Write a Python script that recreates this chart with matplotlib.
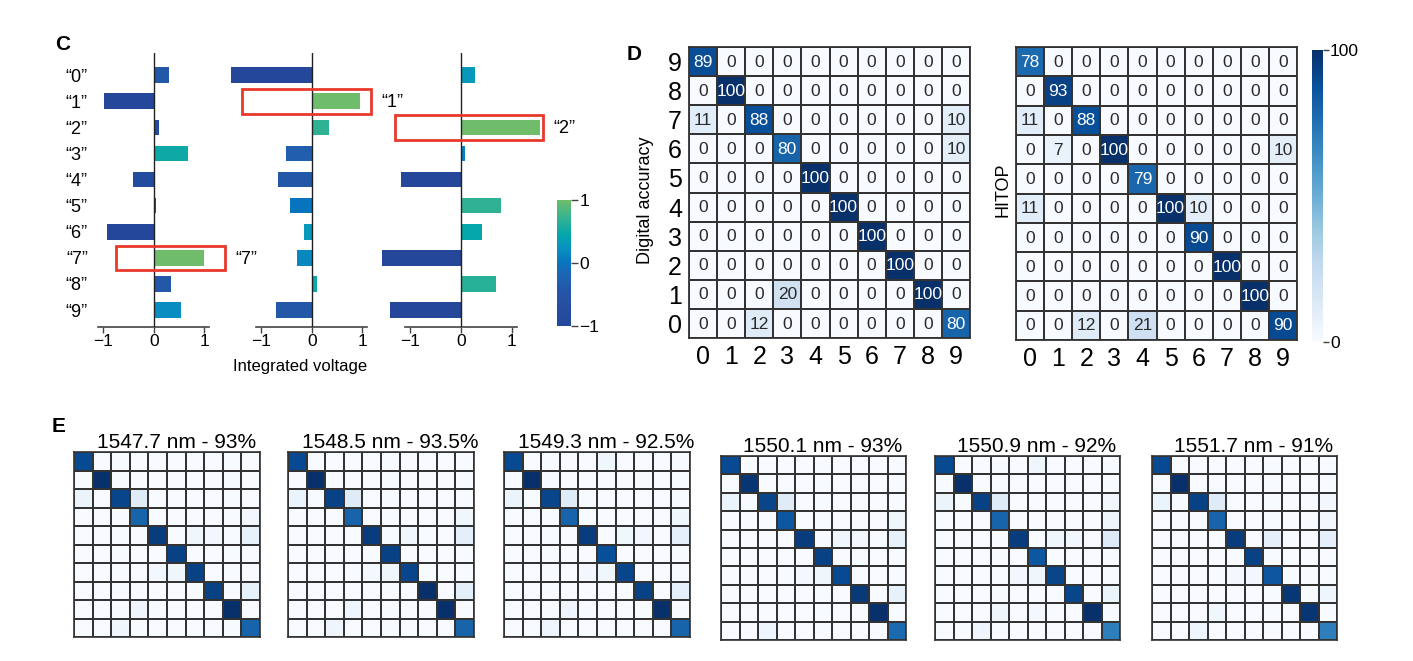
import numpy as np
import matplotlib
matplotlib.use('Agg')
import matplotlib.pyplot as plt
from matplotlib.colors import LinearSegmentedColormap, Normalize
from matplotlib.patches import Rectangle
import matplotlib.cm as cm

plt.rcParams['font.family'] = ['Liberation Sans', 'DejaVu Sans']

# ---------------- data ----------------
digit_labels_c = ['“0”', '“1”', '“2”', '“3”', '“4”', '“5”', '“6”', '“7”', '“8”', '“9”']
volt_a = [0.29, -0.99, 0.10, 0.68, -0.42, 0.04, -0.94, 0.99, 0.33, 0.54]
level_a = [-0.4, -1.0, -0.8, 0.5, -0.8, -0.8, -1.0, 1.0, -0.4, 0.2]
volt_b = [-1.61, 0.96, 0.33, -0.51, -0.68, -0.44, -0.15, -0.30, 0.10, -0.72]
level_b = [-1.0, 1.0, 0.7, -0.3, -0.4, 0.0, 0.3, 0.15, 0.5, -0.4]
volt_c = [0.28, 0.0, 1.56, 0.08, -1.18, 0.80, 0.41, -1.56, 0.70, -1.41]
level_c = [0.3, 0.0, 1.0, 0.1, -1.0, 0.7, 0.45, -1.0, 0.65, -1.0]
predicted = [7, 1, 2]
box_span = [(-0.75, 1.42), (-1.39, 1.17), (-1.30, 1.63)]

d_row_labels = ['9', '8', '7', '6', '5', '4', '3', '2', '1', '0']
d_col_labels = ['0', '1', '2', '3', '4', '5', '6', '7', '8', '9']
digital_acc = [
    [89, 0, 0, 0, 0, 0, 0, 0, 0, 0],
    [0, 100, 0, 0, 0, 0, 0, 0, 0, 0],
    [11, 0, 88, 0, 0, 0, 0, 0, 0, 10],
    [0, 0, 0, 80, 0, 0, 0, 0, 0, 10],
    [0, 0, 0, 0, 100, 0, 0, 0, 0, 0],
    [0, 0, 0, 0, 0, 100, 0, 0, 0, 0],
    [0, 0, 0, 0, 0, 0, 100, 0, 0, 0],
    [0, 0, 0, 0, 0, 0, 0, 100, 0, 0],
    [0, 0, 0, 20, 0, 0, 0, 0, 100, 0],
    [0, 0, 12, 0, 0, 0, 0, 0, 0, 80],
]
hitop = [
    [78, 0, 0, 0, 0, 0, 0, 0, 0, 0],
    [0, 93, 0, 0, 0, 0, 0, 0, 0, 0],
    [11, 0, 88, 0, 0, 0, 0, 0, 0, 0],
    [0, 7, 0, 100, 0, 0, 0, 0, 0, 10],
    [0, 0, 0, 0, 79, 0, 0, 0, 0, 0],
    [11, 0, 0, 0, 0, 100, 10, 0, 0, 0],
    [0, 0, 0, 0, 0, 0, 90, 0, 0, 0],
    [0, 0, 0, 0, 0, 0, 0, 100, 0, 0],
    [0, 0, 0, 0, 0, 0, 0, 0, 100, 0],
    [0, 0, 12, 0, 21, 0, 0, 0, 0, 90],
]

e_titles = ['1547.7 nm - 93%', '1548.5 nm - 93.5%', '1549.3 nm - 92.5%',
            '1550.1 nm - 93%', '1550.9 nm - 92%', '1551.7 nm - 91%']
e_1547 = [
    [90, 0, 0, 0, 0, 0, 0, 0, 0, 0],
    [0, 100, 0, 0, 0, 0, 0, 0, 0, 0],
    [6, 0, 92, 12, 0, 0, 0, 0, 0, 0],
    [0, 0, 0, 80, 0, 0, 0, 0, 0, 3],
    [0, 0, 0, 0, 95, 0, 4, 3, 0, 8],
    [0, 0, 0, 0, 0, 93, 0, 0, 0, 0],
    [0, 0, 0, 0, 2, 4, 93, 0, 0, 0],
    [0, 0, 0, 0, 0, 0, 0, 93, 0, 8],
    [0, 0, 0, 5, 0, 0, 0, 0, 100, 0],
    [0, 0, 4, 0, 0, 0, 0, 0, 0, 80],
]
e_1548 = [
    [90, 0, 0, 0, 0, 0, 0, 0, 0, 0],
    [0, 100, 0, 0, 0, 0, 0, 0, 0, 0],
    [6, 0, 93, 12, 0, 0, 0, 0, 0, 0],
    [0, 0, 0, 80, 0, 0, 0, 0, 0, 4],
    [0, 0, 0, 0, 95, 0, 4, 0, 0, 9],
    [0, 0, 0, 0, 0, 93, 0, 0, 0, 0],
    [0, 0, 0, 0, 2, 4, 92, 0, 0, 0],
    [0, 0, 0, 0, 0, 0, 0, 100, 0, 9],
    [0, 0, 0, 5, 0, 0, 0, 0, 100, 0],
    [0, 0, 5, 0, 0, 0, 0, 0, 0, 80],
]
e_1549 = [
    [90, 0, 0, 0, 0, 4, 0, 0, 0, 0],
    [0, 100, 0, 0, 0, 0, 0, 0, 0, 0],
    [6, 0, 92, 12, 0, 0, 0, 0, 0, 0],
    [0, 0, 0, 80, 0, 0, 0, 0, 0, 4],
    [0, 0, 0, 0, 95, 0, 4, 3, 0, 9],
    [0, 0, 0, 0, 0, 88, 0, 0, 0, 0],
    [0, 0, 0, 0, 2, 4, 92, 0, 0, 0],
    [0, 0, 0, 0, 0, 0, 0, 93, 0, 9],
    [0, 0, 0, 5, 0, 0, 0, 0, 100, 0],
    [0, 0, 5, 0, 0, 0, 0, 0, 0, 80],
]
e_1550a = [
    [90, 0, 0, 0, 0, 0, 0, 0, 0, 0],
    [0, 98, 0, 0, 0, 0, 0, 0, 0, 0],
    [6, 0, 92, 12, 0, 0, 0, 0, 0, 0],
    [0, 0, 0, 85, 0, 0, 0, 0, 0, 4],
    [0, 0, 0, 0, 95, 0, 4, 3, 0, 8],
    [0, 0, 0, 0, 0, 93, 0, 0, 0, 0],
    [0, 0, 0, 0, 2, 4, 90, 0, 0, 0],
    [0, 0, 0, 0, 0, 0, 0, 96, 0, 8],
    [0, 0, 0, 0, 0, 0, 0, 0, 100, 0],
    [0, 0, 5, 0, 0, 0, 0, 0, 0, 78],
]
e_1550b = [
    [90, 0, 0, 0, 0, 4, 0, 0, 0, 0],
    [0, 100, 0, 0, 0, 0, 0, 0, 0, 0],
    [6, 0, 93, 12, 0, 0, 0, 0, 0, 3],
    [0, 0, 0, 80, 0, 0, 0, 0, 0, 4],
    [0, 0, 0, 0, 95, 0, 4, 3, 0, 13],
    [0, 0, 0, 0, 0, 85, 0, 0, 0, 0],
    [0, 0, 0, 0, 3, 4, 92, 0, 0, 0],
    [0, 0, 0, 0, 0, 0, 0, 92, 0, 6],
    [0, 0, 0, 4, 0, 2, 0, 0, 100, 0],
    [0, 0, 5, 0, 0, 0, 0, 0, 0, 70],
]
e_1551 = [
    [90, 0, 0, 0, 0, 0, 0, 0, 0, 0],
    [0, 100, 0, 0, 0, 0, 0, 0, 0, 0],
    [6, 0, 93, 12, 0, 0, 0, 0, 0, 3],
    [0, 0, 0, 80, 0, 0, 0, 0, 0, 3],
    [0, 0, 0, 0, 95, 0, 9, 0, 0, 9],
    [0, 0, 0, 0, 0, 93, 0, 0, 0, 0],
    [0, 0, 0, 0, 2, 3, 85, 0, 0, 0],
    [0, 0, 0, 0, 0, 0, 0, 97, 0, 5],
    [0, 0, 0, 4, 0, 0, 0, 0, 98, 0],
    [0, 0, 5, 0, 0, 0, 0, 0, 0, 70],
]
e_mats = [e_1547, e_1548, e_1549, e_1550a, e_1550b, e_1551]

# ---------------- figure ----------------
W, H = 1413, 661
fig = plt.figure(figsize=(W / 100, H / 100), dpi=100)
fig.patch.set_facecolor('white')


def px_axes(x0, y0, x1, y1):
    return fig.add_axes([x0 / W, 1 - y1 / H, (x1 - x0) / W, (y1 - y0) / H])


def fx(x):
    return x / W


def fy(y):
    return 1 - y / H


c_cmap = LinearSegmentedColormap.from_list('c_cmap', [
    (0.00, '#24479a'), (0.25, '#2553a5'), (0.40, '#1f63b3'),
    (0.50, '#0874be'), (0.62, '#0a92c0'), (0.72, '#03a6ad'),
    (0.85, '#2fb294'), (1.00, '#6fbd6a')])
c_norm = Normalize(-1, 1)

# ---------------- panel C ----------------
c_specs = [((93.4, 53, 214.4, 327), (-1.2, 1.2), volt_a, level_a),
           ((226, 53, 372.5, 327), (-1.7, 1.2), volt_b, level_b),
           ((375, 53, 547, 327), (-1.7, 1.7), volt_c, level_c)]
rows = np.arange(10)
for k, (box, xl, vals, lev) in enumerate(c_specs):
    ax = px_axes(*box)
    ax.barh(rows, vals, height=0.6, color=[c_cmap(c_norm(v)) for v in lev])
    ax.set_xlim(*xl)
    ax.set_ylim(9.65, -0.85)
    ax.axvline(0, color='#222222', lw=1.0, zorder=3)
    for s in ['top', 'right', 'left']:
        ax.spines[s].set_visible(False)
    ax.spines['bottom'].set_bounds(-1.1, 1.1)
    ax.spines['bottom'].set_color('#444444')
    ax.spines['bottom'].set_linewidth(1.2)
    ax.set_xticks([-1, 0, 1])
    ax.set_xticklabels(['−1', '0', '1'], fontsize=12.5)
    ax.tick_params(axis='x', direction='out', length=4, width=1.0, color='#444444', pad=1)
    if k == 0:
        ax.set_yticks(rows)
        ax.set_yticklabels(digit_labels_c, fontsize=13)
        ax.tick_params(axis='y', length=0, pad=4)
    else:
        ax.set_yticks([])
    ax.patch.set_alpha(0)
    p = predicted[k]
    x0, x1 = box_span[k]
    ax.add_patch(Rectangle((x0, p - 0.47), x1 - x0, 0.94, fill=False,
                           edgecolor='#e8392b', lw=2.0, clip_on=False, zorder=4))
    ax.text(x1 + 0.2, p + 0.05, digit_labels_c[p], fontsize=13, va='center',
            ha='left', clip_on=False)

fig.text(fx(300), fy(366), 'Integrated voltage', fontsize=12, ha='center', va='center')

cax = px_axes(557, 200, 571, 326)
cb = fig.colorbar(cm.ScalarMappable(norm=c_norm, cmap=c_cmap), cax=cax, ticks=[-1, 0, 1])
cb.ax.set_yticklabels(['−1', '0', '1'], fontsize=12.5)
cb.outline.set_visible(False)
cb.ax.tick_params(length=5, width=1.0, color='#444444', pad=1)

fig.text(fx(55), fy(50), 'C', fontsize=15, fontweight='bold', ha='left', va='baseline')

# ---------------- panel D ----------------
blues = plt.get_cmap('Blues')


def conf_matrix(ax, M, annotate=True, lw=1.3):
    M = np.asarray(M, dtype=float)
    ax.pcolormesh(np.arange(11), np.arange(11), M, cmap=blues, vmin=0, vmax=100,
                  edgecolors='#333333', linewidth=lw)
    ax.set_xlim(0, 10)
    ax.set_ylim(10, 0)
    for s in ax.spines.values():
        s.set_color('#333333')
        s.set_linewidth(lw)
    if annotate:
        for i in range(10):
            for j in range(10):
                v = int(M[i, j])
                ax.text(j + 0.5, i + 0.52, str(v), ha='center', va='center',
                        fontsize=12.5, color='white' if v > 50 else '#2a2a2a')


axd1 = px_axes(689, 47, 970, 338)
conf_matrix(axd1, digital_acc)
axd1.set_yticks(np.arange(10) + 0.5)
axd1.set_yticklabels(d_row_labels, fontsize=18)
axd1.set_xticks(np.arange(10) + 0.5)
axd1.set_xticklabels(d_col_labels, fontsize=18)
axd1.tick_params(length=0, pad=5)
fig.text(fx(645), fy(200), 'Digital accuracy', rotation=90, fontsize=13,
         ha='center', va='center')

axd2 = px_axes(1016, 47, 1297, 340)
conf_matrix(axd2, hitop)
axd2.set_yticks([])
axd2.set_xticks(np.arange(10) + 0.5)
axd2.set_xticklabels(d_col_labels, fontsize=18)
axd2.tick_params(length=0, pad=5)
fig.text(fx(1003), fy(190), 'HITOP', rotation=90, fontsize=13, ha='center', va='center')

cax2 = px_axes(1312, 50, 1323, 342)
cb2 = fig.colorbar(cm.ScalarMappable(norm=Normalize(0, 100), cmap=blues), cax=cax2, ticks=[0, 100])
cb2.ax.set_yticklabels(['0', '100'], fontsize=12.5)
cb2.outline.set_visible(False)
cb2.ax.tick_params(length=4, width=1.0, color='#444444', pad=1)

fig.text(fx(627), fy(60), 'D', fontsize=15, fontweight='bold', ha='left', va='baseline')

# ---------------- panel E ----------------
e_boxes = [(74, 452, 260, 637), (288, 452, 474, 637), (504, 452, 690, 637),
           (721, 456, 906, 640), (935, 456, 1120, 640), (1152, 456, 1337, 640)]
for box, M, t in zip(e_boxes, e_mats, e_titles):
    ax = px_axes(*box)
    conf_matrix(ax, M, annotate=False, lw=1.2)
    ax.set_xticks([])
    ax.set_yticks([])
    ax.set_title(t, fontsize=15, x=0.55, pad=2)

fig.text(fx(52), fy(432), 'E', fontsize=15, fontweight='bold', ha='left', va='baseline')

fig.savefig('out.png', dpi=100)
